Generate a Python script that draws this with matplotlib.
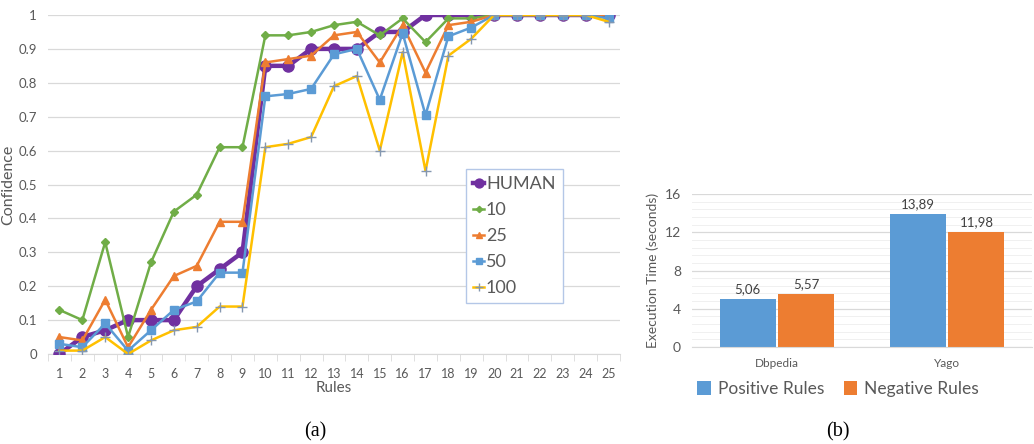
import numpy as np
import matplotlib.pyplot as plt
from matplotlib.ticker import MultipleLocator

plt.rcParams['font.family'] = ['Lato', 'DejaVu Sans']

rules = list(range(1, 26))
human = [0, 0.05, 0.07, 0.1, 0.1, 0.1, 0.2, 0.25, 0.3, 0.85, 0.85, 0.9, 0.9, 0.9,
         0.95, 0.95, 1, 1, 1, 1, 1, 1, 1, 1, 1]
s10 = [0.13, 0.1, 0.33, 0.05, 0.27, 0.42, 0.47, 0.61, 0.61, 0.94, 0.94, 0.95, 0.97,
       0.98, 0.94, 0.99, 0.92, 0.99, 0.99, 1, 1, 1, 1, 1, 1]
s25 = [0.05, 0.04, 0.16, 0.02, 0.13, 0.23, 0.26, 0.39, 0.39, 0.86, 0.87, 0.88, 0.94,
       0.95, 0.86, 0.97, 0.83, 0.97, 0.98, 1, 1, 1, 1, 1, 1]
s50 = [0.03, 0.02, 0.09, 0.01, 0.07, 0.13, 0.155, 0.24, 0.24, 0.76, 0.767, 0.782,
       0.884, 0.9, 0.75, 0.946, 0.705, 0.937, 0.963, 1, 1, 1, 1, 1, 0.99]
s100 = [0.01, 0.01, 0.05, 0, 0.04, 0.07, 0.08, 0.14, 0.14, 0.61, 0.62, 0.64, 0.79,
        0.82, 0.6, 0.89, 0.54, 0.88, 0.93, 1, 1, 1, 1, 1, 0.98]
conf_ticks = [0, 0.1, 0.2, 0.3, 0.4, 0.5, 0.6, 0.7, 0.8, 0.9, 1]
conf_labels = ['0', '0.1', '0.2', '0.3', '0.4', '0.5', '0.6', '0.7', '0.8', '0.9', '1']

datasets = ['Dbpedia', 'Yago']
positive = [5.06, 13.89]
negative = [5.57, 11.98]

PURPLE = '#7030A0'
GREEN = '#70AD47'
ORANGE = '#ED7D31'
BLUE = '#5B9BD5'
YELLOW = '#FFC000'
GRID = '#D9D9D9'
TXT = '#595959'

W, H = 1034, 444
fig = plt.figure(figsize=(W / 100, H / 100), dpi=100)


def box(l, t, r, b):
    return [l / W, 1 - b / H, (r - l) / W, (b - t) / H]


# ---- (a) line chart ----
ax = fig.add_axes(box(48, 15, 620, 354))
ax.plot(rules, human, color=PURPLE, lw=3.2, marker='o', ms=8, label='HUMAN', zorder=3)
ax.plot(rules, s10, color=GREEN, lw=1.8, marker='D', ms=4, label='10', zorder=3)
ax.plot(rules, s25, color=ORANGE, lw=1.8, marker='^', ms=6, label='25', zorder=3)
ax.plot(rules, s50, color=BLUE, lw=1.8, marker='s', ms=6, label='50', zorder=3)
ax.plot(rules, s100, color=YELLOW, lw=1.8, marker='+', ms=7, mec='#8497B0',
        mew=1, label='100', zorder=3)

ax.set_xlim(0.5, 25.5)
ax.set_ylim(0, 1)
ax.set_xticks(rules)
ax.set_xticks(np.arange(0.5, 26, 1), minor=True)
ax.set_yticks(conf_ticks)
ax.set_yticklabels(conf_labels)
ax.tick_params(axis='x', which='major', length=0, labelsize=9, colors=TXT, pad=10)
ax.tick_params(axis='x', which='minor', length=5, color=GRID)
ax.tick_params(axis='y', length=0, labelsize=9.5, colors=TXT, pad=8)
ax.grid(axis='y', color=GRID, lw=0.9)
ax.set_axisbelow(True)
for s in ['top', 'right', 'left']:
    ax.spines[s].set_visible(False)
ax.spines['bottom'].set_color(GRID)
ax.set_xlabel('Rules', fontsize=11, color=TXT, labelpad=1)
ax.set_ylabel('Confidence', fontsize=11.5, color=TXT, labelpad=2)

leg = ax.legend(loc='upper left', bbox_to_anchor=((457 - 48) / 572, (354 - 160) / 339),
                fontsize=13, handlelength=0.6, handletextpad=0.1, labelspacing=0.55,
                borderpad=0.4, fancybox=False, framealpha=1, markerscale=0.8)
leg.get_frame().set_edgecolor('#B4C7E7')
leg.get_frame().set_linewidth(1)
for t in leg.get_texts():
    t.set_color(TXT)

fig.text(315 / W, 1 - 432 / H, '(a)', ha='center', va='center', fontsize=14.5,
         family='Liberation Serif')

# ---- (b) bar chart ----
bx = fig.add_axes(box(692, 194, 1032, 347))
x = np.arange(len(datasets))
bw = 0.33
b1 = bx.bar(x - bw / 2 - 0.008, positive, bw, color=BLUE, label='Positive Rules')
b2 = bx.bar(x + bw / 2 + 0.008, negative, bw, color=ORANGE, label='Negative Rules')
for bars in (b1, b2):
    for r in bars:
        bx.text(r.get_x() + r.get_width() / 2, r.get_height() + 0.4,
                f'{r.get_height():.2f}'.replace('.', ','), ha='center', va='bottom',
                fontsize=9.5, color='#404040')
bx.set_xlim(-0.5, 1.5)
bx.set_ylim(0, 16)
bx.set_xticks(x)
bx.set_xticklabels(datasets)
bx.yaxis.set_major_locator(MultipleLocator(4))
bx.yaxis.set_minor_locator(MultipleLocator(0.8))
bx.tick_params(axis='x', length=0, labelsize=8.5, colors=TXT, pad=8)
bx.tick_params(axis='y', which='both', length=0, labelsize=10, colors=TXT, pad=8)
bx.grid(axis='y', which='major', color=GRID, lw=0.9)
bx.grid(axis='y', which='minor', color='#F0F0F0', lw=0.7)
bx.set_axisbelow(True)
for s in ['top', 'right', 'left']:
    bx.spines[s].set_visible(False)
bx.spines['bottom'].set_color(GRID)
bx.set_ylabel('Execution Time (seconds)', fontsize=10, color=TXT, labelpad=4)

leg2 = bx.legend(loc='upper center', bbox_to_anchor=(0.43, -0.12), ncol=2,
                 fontsize=12.5, frameon=False, handlelength=0.8, handleheight=0.8,
                 handletextpad=0.4, columnspacing=1.1)
for t in leg2.get_texts():
    t.set_color(TXT)

fig.text(838 / W, 1 - 432 / H, '(b)', ha='center', va='center', fontsize=14.5,
         family='Liberation Serif')

fig.savefig('out.png', dpi=100, facecolor='white')
